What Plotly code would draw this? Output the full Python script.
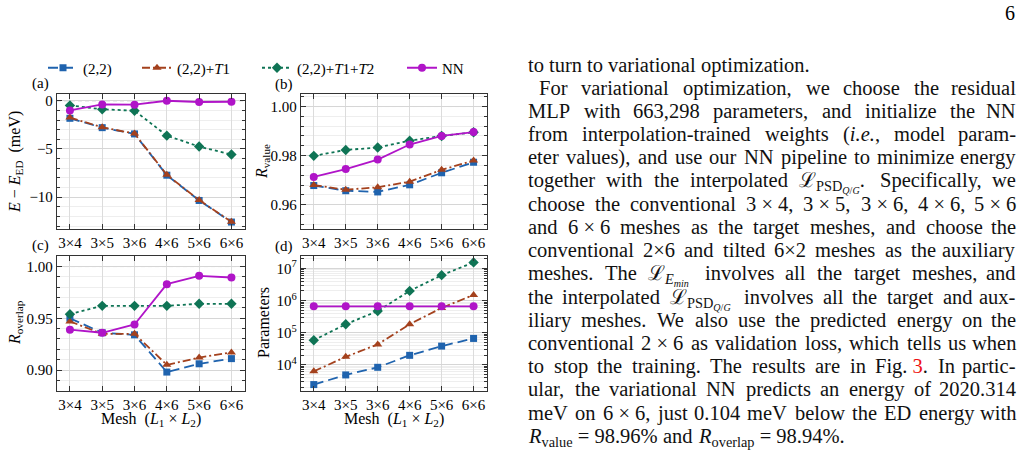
import plotly.graph_objects as go

W, H = 1024, 458


def px(x):
    return x / W


def py(y):
    return 1 - y / H


# ---------------- data ----------------
meshes = ["3×4", "3×5", "3×6", "4×6", "5×6", "6×6"]
x_pos = [0, 1, 2, 3, 4, 5]

energy_22 = [-1.82, -2.79, -3.44, -7.72, -10.34, -12.58]
energy_t1 = [-1.75, -2.75, -3.40, -7.68, -10.30, -12.55]
energy_t1t2 = [-0.48, -0.89, -1.03, -3.62, -4.75, -5.58]
energy_nn = [-1.00, -0.38, -0.41, 0.00, -0.13, -0.104]

rvalue_22 = [0.9678, 0.9657, 0.9652, 0.9681, 0.9730, 0.9773]
rvalue_t1 = [0.9680, 0.9661, 0.9671, 0.9694, 0.9742, 0.9780]
rvalue_t1t2 = [0.9799, 0.9823, 0.9833, 0.9861, 0.9880, 0.9895]
rvalue_nn = [0.9713, 0.9745, 0.9784, 0.9845, 0.9880, 0.9896]

roverlap_22 = [0.950, 0.936, 0.934, 0.898, 0.906, 0.911]
roverlap_t1 = [0.947, 0.935, 0.935, 0.905, 0.912, 0.917]
roverlap_t1t2 = [0.954, 0.962, 0.962, 0.962, 0.964, 0.964]
roverlap_nn = [0.939, 0.936, 0.944, 0.983, 0.991, 0.9894]

params_22 = [2400, 4800, 8300, 19600, 38000, 66000]
params_t1 = [6200, 17600, 43000, 183000, 590000, 1500000]
params_t1t2 = [58000, 183000, 470000, 2000000, 6200000, 15500000]
params_nn = [663298, 663298, 663298, 663298, 663298, 663298]

series_names = ["(2,2)", "(2,2)+<i>T</i>1", "(2,2)+<i>T</i>1+<i>T</i>2", "NN"]

# ---------------- styles ----------------
FONT = "Liberation Serif"
colors = ["#1f63ae", "#a4411d", "#0f7455", "#b014c8"]
dashes = ["10px,5px", "8px,3px,2px,3px", "3px,3px", "solid"]
symbols = ["square", "triangle-up", "diamond", "circle"]
msizes = [7, 8, 8, 8]

panel_data = [
    [energy_22, energy_t1, energy_t1t2, energy_nn],
    [rvalue_22, rvalue_t1, rvalue_t1t2, rvalue_nn],
    [roverlap_22, roverlap_t1, roverlap_t1t2, roverlap_nn],
    [params_22, params_t1, params_t1t2, params_nn],
]

# pixel boxes of the four plot areas (left, right, top, bottom)
boxes = [
    (57, 245, 94, 229),
    (301, 487, 94, 229),
    (57, 245, 256, 391),
    (301, 487, 256, 391),
]

fig = go.Figure()
legend_ids = ["legend", "legend2", "legend3", "legend4"]

for p in range(4):
    xa = "x" if p == 0 else f"x{p + 1}"
    ya = "y" if p == 0 else f"y{p + 1}"
    for s in range(4):
        fig.add_trace(go.Scatter(
            x=x_pos, y=panel_data[p][s], xaxis=xa, yaxis=ya,
            mode="lines+markers", name=series_names[s],
            line=dict(color=colors[s], width=1.8, dash=dashes[s]),
            marker=dict(symbol=symbols[s], size=msizes[s], color=colors[s]),
            legend=legend_ids[s], showlegend=(p == 0),
        ))

AX_COL = "#333333"
tickfont = dict(family=FONT, size=15, color="black")

layout = dict(
    width=W, height=H, margin=dict(l=0, r=0, t=0, b=0),
    paper_bgcolor="white", plot_bgcolor="white",
    font=dict(family=FONT, size=15, color="black"),
)

yspecs = [
    dict(range=[-13.3, 0.7], tick0=0, dtick=5,
         minor=dict(dtick=1, tick0=0, ticks="inside", ticklen=3, tickcolor=AX_COL,
                    showgrid=True, gridcolor="#eeeeee")),
    dict(range=[0.9501, 1.0051], tick0=0.96, dtick=0.02, tickformat=".2f",
         minor=dict(dtick=0.004, tick0=0.96, ticks="inside", ticklen=3, tickcolor=AX_COL,
                    showgrid=True, gridcolor="#eeeeee")),
    dict(range=[0.8797, 1.0102], tick0=0.90, dtick=0.05, tickformat=".2f",
         minor=dict(dtick=0.01, tick0=0.90, ticks="inside", ticklen=3, tickcolor=AX_COL,
                    showgrid=True, gridcolor="#eeeeee")),
    dict(type="log", range=[3.18, 7.39], tickmode="array",
         tickvals=[1e4, 1e5, 1e6, 1e7],
         ticktext=["10<sup>4</sup>", "10<sup>5</sup>", "10<sup>6</sup>", "10<sup>7</sup>"],
         minor=dict(tickmode="array",
                    tickvals=[m * 10 ** e for e in range(3, 8) for m in range(2, 10)],
                    ticks="inside", ticklen=3, tickcolor=AX_COL,
                    showgrid=True, gridcolor="#eeeeee")),
]

for p in range(4):
    l, r, t, b = boxes[p]
    xk = "xaxis" if p == 0 else f"xaxis{p + 1}"
    yk = "yaxis" if p == 0 else f"yaxis{p + 1}"
    ya = "y" if p == 0 else f"y{p + 1}"
    xa = "x" if p == 0 else f"x{p + 1}"
    layout[xk] = dict(
        domain=[px(l), px(r)], anchor=ya, range=[-0.4, 5.42],
        tickmode="array", tickvals=x_pos, ticktext=meshes,
        ticks="inside", ticklen=5, tickcolor=AX_COL, mirror="allticks",
        showline=True, linecolor=AX_COL, linewidth=1.3,
        showgrid=True, gridcolor="#dcdcdc", zeroline=False, tickfont=tickfont,
        ticklabelstandoff=0,
    )
    yd = dict(
        domain=[py(b), py(t)], anchor=xa,
        ticks="inside", ticklen=5, tickcolor=AX_COL, mirror="allticks",
        showline=True, linecolor=AX_COL, linewidth=1.3,
        showgrid=True, gridcolor="#d6d6d6", zeroline=False, tickfont=tickfont,
    )
    yd.update(yspecs[p])
    layout[yk] = yd

# legends, one per series, laid in a row above the panels
legend_x = [43, 137, 257, 402]
for s in range(4):
    layout[legend_ids[s]] = dict(
        x=px(legend_x[s]), y=py(68), xanchor="left", yanchor="middle",
        orientation="h", bgcolor="rgba(0,0,0,0)", borderwidth=0,
        font=dict(family=FONT, size=15, color="black"),
    )

fig.update_layout(**layout)

# dashed reference lines
for ya, val in [("y", 0), ("y2", 1.0), ("y3", 1.0)]:
    xdom = "x domain" if ya == "y" else f"x{ya[1:]} domain"
    fig.add_shape(type="line", xref=xdom, yref=ya, x0=0, x1=1, y0=val, y1=val,
                  line=dict(color="#b8b8b8", width=1, dash="4px,3px"), layer="below")


def label(txt, x, y, size=15, angle=0):
    fig.add_annotation(x=px(x), y=py(y), xref="paper", yref="paper", text=txt,
                       textangle=angle, showarrow=False, xanchor="center",
                       yanchor="middle", borderpad=0,
                       font=dict(family=FONT, size=size, color="black"))


# panel letters
for lab, x, y in [("(a)", 40, 84), ("(b)", 284, 85), ("(c)", 40, 245), ("(d)", 284, 246)]:
    label(lab, x, y)

# axis titles
ytitles = [
    ("<i>E</i> − <i>E</i><sub>ED</sub>  (meV)", 15, 162),
    ("<i>R</i><sub>value</sub>", 262, 162),
    ("<i>R</i><sub>overlap</sub>", 15, 323),
    ("Parameters", 263, 323),
]
for txt, x, y in ytitles:
    label(txt, x, y, size=16, angle=-90)
for x in [151, 394]:
    label("Mesh  (<i>L</i><sub>1</sub> × <i>L</i><sub>2</sub>)", x, 419, size=16)

# page number
label("6", 1010, 13, size=20)

# ---------------- right-hand column of text (justified) ----------------
CW = {' ': 250, '!': 333, '(': 333, ')': 333, '+': 564, ',': 250, '-': 333, '.': 250,
      '/': 278, ':': 278, ';': 278, '=': 564, '%': 833, '×': 564, 'ℒ': 850, '\u00a0': 250,
      'A': 722, 'B': 667, 'C': 667, 'D': 722, 'E': 611, 'F': 556, 'G': 722, 'H': 722,
      'I': 333, 'J': 389, 'K': 722, 'L': 611, 'M': 889, 'N': 722, 'O': 722, 'P': 556,
      'Q': 722, 'R': 667, 'S': 556, 'T': 611, 'U': 722, 'V': 722, 'W': 944, 'X': 722,
      'Y': 722, 'Z': 611,
      'a': 444, 'b': 500, 'c': 444, 'd': 500, 'e': 444, 'f': 333, 'g': 500, 'h': 500,
      'i': 278, 'j': 278, 'k': 500, 'l': 278, 'm': 778, 'n': 500, 'o': 500, 'p': 500,
      'q': 500, 'r': 333, 's': 389, 't': 278, 'u': 500, 'v': 500, 'w': 722, 'x': 500,
      'y': 500, 'z': 444}
for d in "0123456789":
    CW[d] = 500

SUB_SCALE = [1.0, 0.7, 0.6, 0.6]


def text_width(s, size):
    total, depth, i = 0.0, 0, 0
    while i < len(s):
        if s[i] == '<':
            j = s.index('>', i)
            tag = s[i + 1:j]
            if tag == 'sub':
                depth += 1
            elif tag == '/sub':
                depth -= 1
            i = j + 1
            continue
        total += CW.get(s[i], 500) * SUB_SCALE[depth]
        i += 1
    return total * size / 1000


NB = "\u00a0"
RED_OPEN = '<span style="color:#ee1111">'
PSD = "ℒ<sub>PSD<sub><i>Q</i>/<i>G</i></sub></sub>"
text_lines = [
    ("to turn to variational optimization.", 0, False),
    ("For variational optimization, we choose the residual", 11, True),
    ("MLP with 663,298 parameters, and initialize the NN", 0, True),
    ("from interpolation-trained weights (<i>i.e.</i>, model param-", 0, True),
    ("eter values), and use our NN pipeline to minimize energy", 0, True),
    (f"together with the interpolated {PSD}. Specifically, we", 0, True),
    (f"choose the conventional 3{NB}×{NB}4, 3{NB}×{NB}5, 3{NB}×{NB}6, 4{NB}×{NB}6, 5{NB}×{NB}6", 0, True),
    (f"and 6{NB}×{NB}6 meshes as the target meshes, and choose the", 0, True),
    ("conventional 2×6 and tilted 6×2 meshes as the auxiliary", 0, True),
    ("meshes. The ℒ<sub><i>E<sub>min</sub></i></sub> involves all the target meshes, and", 0, True),
    (f"the interpolated {PSD} involves all the target and aux-", 0, True),
    ("iliary meshes. We also use the predicted energy on the", 0, True),
    (f"conventional 2{NB}×{NB}6 as validation loss, which tells us when", 0, True),
    (f"to stop the training. The results are in Fig.{NB}<red>3</red>. In partic-", 0, True),
    ("ular, the variational NN predicts an energy of 2020.314", 0, True),
    (f"meV on 6{NB}×{NB}6, just 0.104 meV below the ED energy with", 0, True),
    (f"<i>R</i><sub>value</sub>{NB}={NB}98.96% and <i>R</i><sub>overlap</sub>{NB}={NB}98.94%.", 0, False),
]

FS = 20.5
X0, X1 = 527, 1017
for k, (txt, indent, justify) in enumerate(text_lines):
    yc = 65.5 + 23.2 * k
    ytop = yc - 13
    words = txt.split(' ')
    widths = [text_width(w, FS) for w in words]
    x_start = X0 + indent
    if justify and len(words) > 1:
        gap = (X1 - x_start - sum(widths)) / (len(words) - 1)
    else:
        gap = CW[' '] * FS / 1000
    x = x_start
    for i, (w, wd) in enumerate(zip(words, widths)):
        last = justify and i == len(words) - 1
        shown = w.replace("<red>", RED_OPEN).replace("</red>", "</span>")
        fig.add_annotation(
            x=px(X1 if last else x), y=py(ytop), xref="paper", yref="paper",
            text=shown, showarrow=False, xanchor="right" if last else "left", yanchor="top",
            borderpad=0, font=dict(family=FONT, size=FS, color="#111111"),
        )
        x += wd + gap

fig.write_html("out.html")
